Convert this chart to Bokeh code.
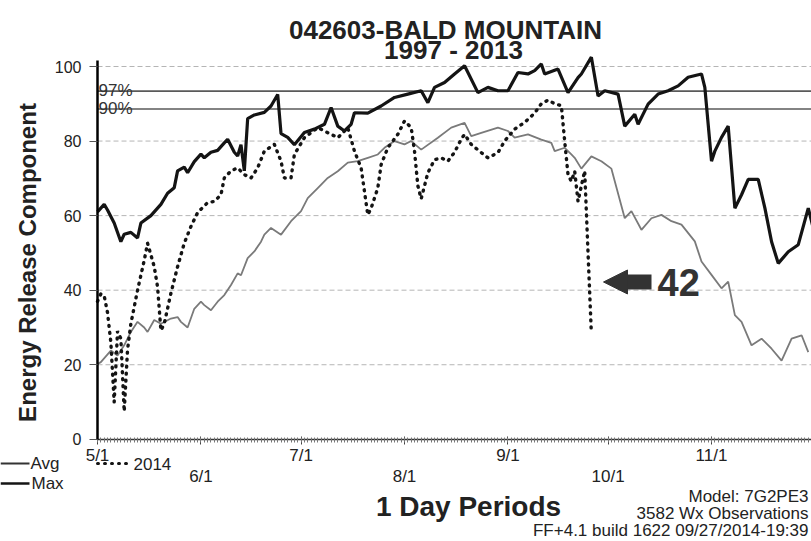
from bokeh.plotting import figure
from bokeh.models import LinearAxis, FixedTicker, Range1d, Label, Arrow, NormalHead
from bokeh.embed import file_html
from bokeh.resources import INLINE

# ---------------- data (day offsets from 5/1) ----------------
month_days = [0, 31, 61, 92, 123, 153, 184]
upper_tick_labels = {0: "5/1", 31: "", 61: "7/1", 92: "", 123: "9/1", 153: "", 184: "11/1"}
lower_tick_days = [31, 92, 153]
lower_tick_labels = {31: "6/1", 92: "8/1", 153: "10/1"}
y_ticks = [0, 20, 40, 60, 80, 100]
grid_values = [20, 40, 60, 80, 100]

max_days = [0, 2, 3, 5, 7, 8, 10, 12, 13, 16, 18, 19, 21, 23, 24, 26, 27, 29, 31, 32,
            34, 36, 38, 39, 41, 42, 43, 44, 45, 47, 50, 52, 54, 55, 57, 59, 62, 65, 68, 70,
            72, 74, 76, 77, 81, 85, 89, 93, 97, 99, 101, 104, 107, 110, 114, 117, 120, 123, 126, 129,
            131, 133, 134, 138, 141, 144, 145, 148, 150, 152, 156, 158, 161, 162, 165, 168, 171, 174, 177, 181,
            182, 184, 185, 187, 189, 191, 193, 195, 198, 200, 202, 204, 207, 210, 213, 215]
max_vals = [61, 63, 61.5, 58, 53, 55, 55.5, 54, 58, 60, 62, 63, 66, 67.5, 72, 73, 71.5, 74.5, 76.5, 75.5,
            77, 77.5, 79.5, 80.5, 77, 76, 79, 72, 86, 87, 87.7, 89.4, 92.5, 82, 81, 79, 82.3, 83.2, 84.5, 89,
            84, 82.7, 84.5, 87.6, 87.5, 89.4, 91.7, 92.6, 93.5, 90.3, 94.4, 95.7, 98, 100.2, 93, 94.4, 93.5, 93.5, 98.4, 98,
            98.9, 100.7, 98, 99.3, 93, 97, 98, 102.5, 92.1, 93.5, 92.6, 84, 87.2, 84.5, 89.9, 92.6, 93.5, 94.8, 97.1, 98,
            94.4, 74.6, 77.3, 81, 84, 62, 65.6, 69.7, 69.7, 62, 53, 47.2, 50.3, 52.2, 62, 54.8]

avg_days = [0, 1, 4, 6, 8, 10, 12, 14, 15, 17, 19, 22, 24, 25, 27, 29, 31, 32, 34, 36,
            38, 40, 42, 43, 45, 47, 49, 50, 52, 55, 58, 61, 63, 66, 69, 72, 75, 78, 81, 84,
            86, 89, 92, 94, 97, 102, 106, 110, 112, 115, 120, 123, 125, 129, 133, 136, 137, 140, 142, 143,
            145, 148, 151, 154, 158, 160, 163, 166, 169, 172, 175, 179, 181, 184, 187, 189, 191, 193, 196, 199,
            202, 205, 208, 211, 213]
avg_vals = [20.2, 20.7, 23.8, 22.5, 25.2, 28.8, 31.5, 30, 28.8, 32, 31, 32.4, 32.8, 31.5, 30, 35, 36.9, 36, 34.6, 36.9,
            38.7, 41.4, 44.5, 44, 48.6, 50.4, 53, 54.9, 56.7, 54.9, 58.5, 61.2, 64.7, 67.4, 70.1, 71.9, 74.2, 74.6, 75.5, 76.4,
            78.2, 80, 79.1, 80, 77.7, 80.9, 83.6, 84.9, 81.3, 82.2, 83.6, 82.7, 80.9, 81.8, 80.4, 79.5, 77.3, 78.2, 76.4, 75.5,
            72.6, 75.9, 74.6, 72.6, 59.3, 61.2, 56.2, 59.3, 60.2, 58.5, 57.6, 53.1, 47.7, 44.1, 40.5, 42.3, 33.3, 31.5, 25.2, 27,
            24.3, 21.1, 27, 27.9, 23.4]

y2014_days = [0, 1, 2, 3, 4, 5, 6, 7, 8, 9, 10, 12, 14, 15, 17, 18, 19, 20, 22, 24,
              26, 28, 30, 33, 35, 37, 38, 40, 42, 44, 46, 48, 50, 53, 55, 56, 58, 59, 62, 66,
              70, 72, 75, 77, 79, 80, 81, 82, 84, 85, 87, 90, 92, 94, 95, 96, 97, 99, 101, 103,
              105, 107, 109, 110, 112, 115, 117, 120, 122, 125, 128, 131, 133, 135, 137, 139, 140, 141, 142, 143,
              144, 145, 146, 147, 148]
y2014_vals = [37, 39, 38.5, 34, 26, 10, 29, 27, 7.5, 24, 31, 40, 48, 52.6, 46.3, 40.9, 29.2, 31, 39.2, 46.3,
              52.6, 57.1, 60.8, 63.5, 63.8, 65.6, 70.1, 72, 72.8, 71, 70.1, 72.8, 77.3, 79.1, 74.6, 70.1, 70.1, 76.4, 80.9, 83.6,
              81.8, 80.9, 83.6, 77.3, 72.8, 66.5, 60.2, 62, 67.4, 73.7, 78.2, 81.8, 85.4, 83.6, 77.3, 68, 64.5, 71.5, 75, 75.5,
              74.6, 77, 80.5, 81.8, 79.1, 76.9, 75.5, 76.9, 80, 83.2, 85, 87.5, 90, 91, 90, 89.5, 80, 71, 69.2, 71.9,
              63.8, 68, 72, 50, 28.3]

pct97_value = 93.4
pct90_value = 88.6
current_erc = 42

# ---------------- layout constants (page pixels) ----------------
FIG_W, FIG_H = 811, 541
PAGE_OFF = 0
X0_PAGE, PX_DAY = 97.0, 3.337      # page x of day 0, px per day
Y0_PAGE, PX_UNIT = 438.8, 3.728    # page y of value 0, px per ERC unit


def px2x(px):
    return (px - X0_PAGE) / PX_DAY


def px2y(py):
    return (Y0_PAGE - py) / PX_UNIT


X_END = px2x(PAGE_OFF + FIG_W)
FONT = "Liberation Sans"
MAX_COLOR = "#141414"
AVG_COLOR = "#7a7a7a"
TXT = "#222222"

p = figure(width=FIG_W, height=FIG_H, output_backend="svg", toolbar_location=None, title=None,
           x_range=Range1d(px2x(PAGE_OFF), X_END),
           y_range=Range1d(px2y(PAGE_OFF + FIG_H), px2y(PAGE_OFF)),
           min_border=0, min_border_left=0, min_border_right=0, min_border_top=0, min_border_bottom=0,
           background_fill_color="white", border_fill_color="white")
p.outline_line_color = None
p.xgrid.visible = False
p.ygrid.visible = False

# dashed horizontal grid
p.segment(x0=[0] * len(grid_values), y0=grid_values, x1=[X_END] * len(grid_values), y1=grid_values,
          line_color="#b5b5b5", line_dash="5 3", line_width=1)

# percentile lines
for v, t in [(pct97_value, "97%"), (pct90_value, "90%")]:
    p.segment(x0=[0], y0=[v], x1=[X_END], y1=[v], line_color="#5a5a5a", line_width=1.6)
    p.add_layout(Label(x=0.3, y=v + 0.25, text=t, text_font=FONT, text_font_size="17px",
                       text_color="#333", text_baseline="alphabetic"))

# y axis (fixed at day 0)
ya = p.yaxis[0]
ya.fixed_location = 0
ya.bounds = (0, 101.5)
ya.ticker = FixedTicker(ticks=y_ticks)
ya.axis_line_width = 2.5
ya.axis_line_color = "black"
ya.major_tick_out = 8
ya.major_tick_in = 0
ya.major_tick_line_color = "#555"
ya.minor_tick_line_color = None
ya.major_label_standoff = 8
ya.major_label_text_font = FONT
ya.major_label_text_font_size = "16px"
ya.major_label_text_color = TXT

# x axis (fixed at value 0), upper row of labels
xa = p.xaxis[0]
xa.fixed_location = 0
xa.bounds = (0, X_END)
xa.ticker = FixedTicker(ticks=month_days, minor_ticks=list(range(0, 215)))
xa.major_label_overrides = upper_tick_labels
xa.axis_line_color = "#333"
xa.axis_line_width = 1.5
xa.major_tick_out = 5
xa.major_tick_in = 3
xa.minor_tick_out = 3
xa.minor_tick_in = 2
xa.major_tick_line_color = "#444"
xa.minor_tick_line_color = "#777"
xa.major_label_standoff = 2
xa.major_label_text_font = FONT
xa.major_label_text_font_size = "17px"
xa.major_label_text_color = TXT

# lower row of month labels
xa2 = LinearAxis(ticker=FixedTicker(ticks=lower_tick_days, minor_ticks=[]),
                 major_label_overrides=lower_tick_labels, fixed_location=0)
xa2.axis_line_color = None
xa2.major_tick_line_color = None
xa2.minor_tick_line_color = None
xa2.major_tick_out = 5
xa2.major_label_standoff = 23
xa2.major_label_text_font = FONT
xa2.major_label_text_font_size = "17px"
xa2.major_label_text_color = TXT
p.add_layout(xa2, "below")

# series
p.line(avg_days, avg_vals, line_color=AVG_COLOR, line_width=1.8)
p.line(max_days, max_vals, line_color=MAX_COLOR, line_width=3.2)
p.line(y2014_days, y2014_vals, line_color=MAX_COLOR, line_width=3.4,
       line_dash="1 6", line_cap="round")

# arrow + "42"
p.add_layout(Arrow(end=NormalHead(size=24, fill_color="#333", line_color="#333"),
                   x_start=px2x(651), y_start=current_erc + 0.2, x_end=px2x(603), y_end=current_erc + 0.2,
                   line_width=15, line_color="#333"))
p.add_layout(Label(x=px2x(657), y=current_erc, text=str(current_erc), text_font=FONT,
                   text_font_size="38px", text_font_style="bold", text_color="#333",
                   text_baseline="middle", text_align="left"))

# y axis title
p.add_layout(Label(x=px2x(27), y=px2y(262), text="Energy Release Component", angle=90, angle_units="deg",
                   text_font=FONT, text_font_size="24px", text_font_style="bold", text_color=TXT,
                   text_align="center", text_baseline="middle"))

# chart title
p.add_layout(Label(x=px2x(445), y=px2y(29), text="042603-BALD MOUNTAIN", text_font=FONT,
                   text_font_size="26px", text_font_style="bold", text_color=TXT,
                   text_align="center", text_baseline="alphabetic"))
p.add_layout(Label(x=px2x(453), y=px2y(49.5), text="1997 - 2013", text_font=FONT,
                   text_font_size="26px", text_font_style="bold", text_color=TXT,
                   text_align="center", text_baseline="alphabetic"))

# legend
LEG1, LEG2 = px2y(463), px2y(483)
p.add_layout(Arrow(start=None, end=None, x_start=px2x(0), y_start=LEG1, x_end=px2x(29), y_end=LEG1,
                   line_color="#333", line_width=2))
p.add_layout(Label(x=px2x(30), y=LEG1, text="Avg", text_font=FONT, text_font_size="17px",
                   text_color=TXT, text_baseline="middle"))
p.add_layout(Arrow(start=None, end=None, x_start=px2x(0), y_start=LEG2, x_end=px2x(29), y_end=LEG2,
                   line_color=MAX_COLOR, line_width=2.5))
p.add_layout(Label(x=px2x(31), y=LEG2, text="Max", text_font=FONT, text_font_size="17px",
                   text_color=TXT, text_baseline="middle"))
p.add_layout(Arrow(start=None, end=None, x_start=px2x(97), y_start=LEG1, x_end=px2x(131), y_end=LEG1,
                   line_color=MAX_COLOR, line_width=3, line_dash="1 6", line_cap="round"))
p.add_layout(Label(x=px2x(133), y=LEG1, text="2014", text_font=FONT, text_font_size="17px",
                   text_color=TXT, text_baseline="middle"))

# footer
p.add_layout(Label(x=px2x(468), y=px2y(506), text="1 Day Periods", text_font=FONT,
                   text_font_size="28px", text_font_style="bold", text_color=TXT,
                   text_align="center", text_baseline="alphabetic"))
for txt, base in [("Model: 7G2PE3", 496), ("3582 Wx Observations", 513),
                  ("FF+4.1 build 1622 09/27/2014-19:39", 530)]:
    p.add_layout(Label(x=px2x(808), y=px2y(base), text=txt, text_font=FONT,
                       text_font_size="17px", text_color=TXT, text_align="right",
                       text_baseline="alphabetic"))

open("out.html", "w").write(file_html(p, INLINE))
